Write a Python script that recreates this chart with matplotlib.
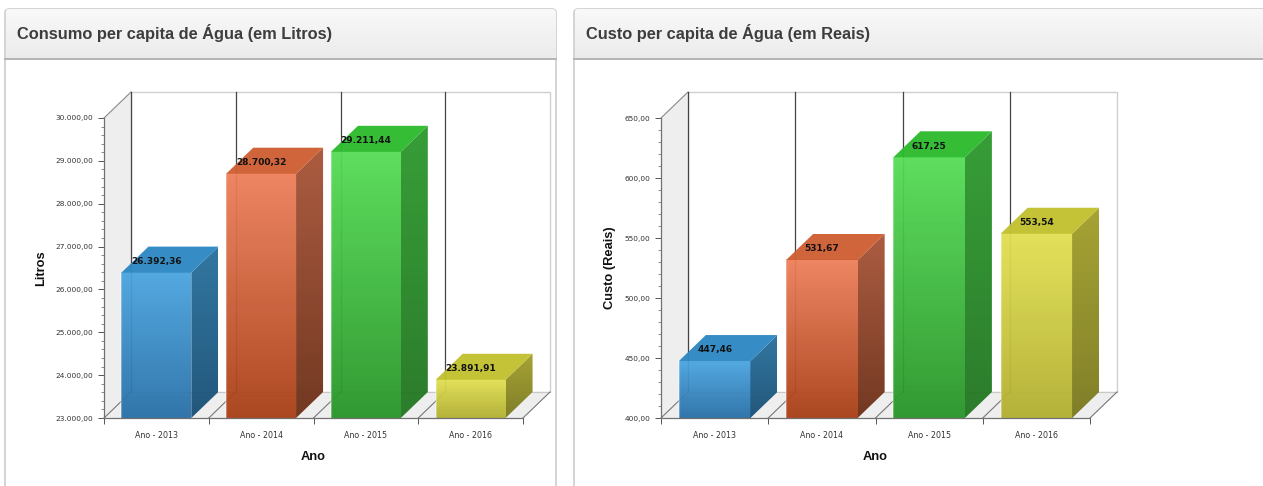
import matplotlib
matplotlib.use("Agg")
import matplotlib.pyplot as plt
import numpy as np
from matplotlib.colors import to_rgb
from matplotlib.patches import FancyBboxPatch, Polygon

# ── Data ──────────────────────────────────────────────────────────────────────
ANOS = ["Ano - 2013", "Ano - 2014", "Ano - 2015", "Ano - 2016"]
LITROS = [26392.36, 28700.32, 29211.44, 23891.91]
CUSTO = [447.46, 531.67, 617.25, 553.54]
LITROS_TICKS = [23000, 24000, 25000, 26000, 27000, 28000, 29000, 30000]
CUSTO_TICKS = [400, 450, 500, 550, 600, 650]

W, H = 1263, 486

# (front top, front bottom, side top, side bottom, top face)
PALETTE = [
    ("#4aa4df", "#2870a8", "#2b729f", "#1c5277", "#2f88c2"),
    ("#ed7f5a", "#a93f16", "#a9573a", "#6f321b", "#cf5f33"),
    ("#55dc55", "#289528", "#309b30", "#257825", "#2fbb2f"),
    ("#e2e052", "#b2af30", "#a3a12d", "#7d7b22", "#c2c030"),
]


def br_number(v):
    return f"{v:,.2f}".replace(",", "X").replace(".", ",").replace("X", ".")


def gradient(c_top, c_bottom):
    t = np.linspace(0, 1, 64)[:, None, None]
    return (1 - t) * np.array(to_rgb(c_top)) + t * np.array(to_rgb(c_bottom))


def panel(bg, x0, x1, title):
    """Card chrome, in pixel coordinates of the whole figure."""
    card = FancyBboxPatch((x0, 9), x1 - x0, H, boxstyle="round,pad=0,rounding_size=4",
                          fc="white", ec="#c4c4c4", lw=1, zorder=1)
    bg.add_patch(card)
    head = bg.imshow(gradient("#f9f9f9", "#ebebeb"), extent=(x0 + 0.5, x1 - 0.5, 59, 9.5),
                     aspect="auto", zorder=2)
    head.set_clip_path(card)
    bg.plot([x0, x1], [59, 59], color="#b4b4b4", lw=1.4, zorder=3)
    bg.text(x0 + 12, 33.5, title, family="Liberation Sans", weight="bold",
            fontsize=11.75, color="#3d3d3d", va="center", zorder=4)


def chart(fig, left, right, values, ticks, ylabel, depth_x):
    top, bottom, depth_y_px = 118, 418, 26
    ax = fig.add_axes([left / W, (H - bottom) / H, (right - left) / W, (bottom - top) / H])
    ax.patch.set_alpha(0)
    ymin, ymax = ticks[0], ticks[-1]
    n = len(values)
    dx = depth_x / ((right - left) / n)
    dy = depth_y_px / (bottom - top) * (ymax - ymin)

    # back wall, side wall and floor
    ax.add_patch(Polygon([(dx, ymin + dy), (n + dx, ymin + dy), (n + dx, ymax + dy), (dx, ymax + dy)],
                         fc="white", ec="#d0d0d0", lw=1, clip_on=False, zorder=1))
    ax.add_patch(Polygon([(0, ymin), (dx, ymin + dy), (dx, ymax + dy), (0, ymax)],
                         fc="#eeeeee", ec="none", clip_on=False, zorder=1))
    ax.add_patch(Polygon([(0, ymin), (n, ymin), (n + dx, ymin + dy), (dx, ymin + dy)],
                         fc="#eeeeee", ec="none", clip_on=False, zorder=1))
    ax.plot([dx, n + dx], [ymin + dy, ymin + dy], color="#c8c8c8", lw=0.8, clip_on=False, zorder=2)
    ax.plot([0, dx], [ymax, ymax + dy], color="#8a8a8a", lw=0.8, clip_on=False, zorder=2)
    for i in range(n + 1):
        ax.plot([i, i + dx], [ymin, ymin + dy], color="#777777", lw=0.8, clip_on=False, zorder=2)
        if i < n:
            ax.plot([i + dx, i + dx], [ymin + dy, ymax + dy], color="#444444", lw=0.9,
                    clip_on=False, zorder=2)

    # bars
    bw = 0.667
    for i, (val, cols) in enumerate(zip(values, PALETTE)):
        x0 = i + (1 - bw) / 2
        x1 = x0 + bw
        z = 3 + i
        ax.imshow(gradient(cols[0], cols[1]), extent=(x0, x1, ymin, val), aspect="auto",
                  alpha=0.95, zorder=z, clip_on=False)
        side = [(x1, ymin), (x1 + dx, ymin + dy), (x1 + dx, val + dy), (x1, val)]
        im = ax.imshow(gradient(cols[2], cols[3]), extent=(x1, x1 + dx, ymin, val + dy),
                       aspect="auto", alpha=0.97, zorder=z)
        im.set_clip_box(fig.bbox)  # the side face sticks out of the axes on the last bar
        im.set_clip_path(Polygon(side, transform=ax.transData))
        ax.add_patch(Polygon([(x0, val), (x1, val), (x1 + dx, val + dy), (x0 + dx, val + dy)],
                             fc=cols[4], ec="none", alpha=0.97, clip_on=False, zorder=z))
        ax.plot([x0, x0], [ymin, val], color="white", alpha=0.3, lw=1.6, clip_on=False, zorder=z)
        ax.annotate(br_number(val), (x0 + bw / 2, val), xytext=(0, 8.0), textcoords="offset points",
                    ha="center", va="center", fontsize=6.5, fontweight="bold", color="#111111",
                    annotation_clip=False, zorder=20)

    ax.set_xlim(0, n)
    ax.set_ylim(ymin, ymax)
    for name in ("top", "right"):
        ax.spines[name].set_visible(False)
    for name in ("left", "bottom"):
        ax.spines[name].set_color("#707070")
        ax.spines[name].set_linewidth(0.9)
        ax.spines[name].set_zorder(25)

    ax.set_yticks(ticks, [br_number(t) for t in ticks])
    step = ticks[1] - ticks[0]
    ax.set_yticks([ymin + step * k / 5 for k in range((len(ticks) - 1) * 5 + 1) if k % 5], minor=True)
    ax.tick_params(axis="y", which="major", length=4, width=0.7, color="#555555",
                   labelsize=5.3, labelcolor="#333333", pad=3.5)
    ax.tick_params(axis="y", which="minor", length=2, width=0.6, color="#777777")

    ax.set_xticks(range(n + 1), [""] * (n + 1))
    ax.set_xticks([i + 0.5 for i in range(n)], ANOS, minor=True)
    ax.tick_params(axis="x", which="major", length=4, width=0.7, color="#555555")
    ax.tick_params(axis="x", which="minor", length=0, labelsize=5.7, labelcolor="#333333", pad=9.5)

    ax.text(0.5, (bottom - 456.5) / (bottom - top), "Ano", transform=ax.transAxes, ha="center", va="center",
            family="Liberation Sans", weight="bold", fontsize=9.3, color="#111111")
    ax.text((ylabel[1] - left) / (right - left), 0.5, ylabel[0], transform=ax.transAxes, rotation=90,
            ha="center", va="center", family="Liberation Sans", weight="bold", fontsize=9.3,
            color="#111111")


fig = plt.figure(figsize=(W / 100, H / 100), dpi=100, facecolor="white")

bg = fig.add_axes([0, 0, 1, 1])
bg.set_axis_off()
panel(bg, 5, 556, "Consumo per capita de Água (em Litros)")
panel(bg, 574, W + 10, "Custo per capita de Água (em Reais)")
bg.set_xlim(0, W)
bg.set_ylim(H, 0)

chart(fig, 104, 523, LITROS, LITROS_TICKS, ("Litros", 41), 27)
chart(fig, 661, 1090, CUSTO, CUSTO_TICKS, ("Custo (Reais)", 610), 27)

fig.savefig("out.png", dpi=100)
